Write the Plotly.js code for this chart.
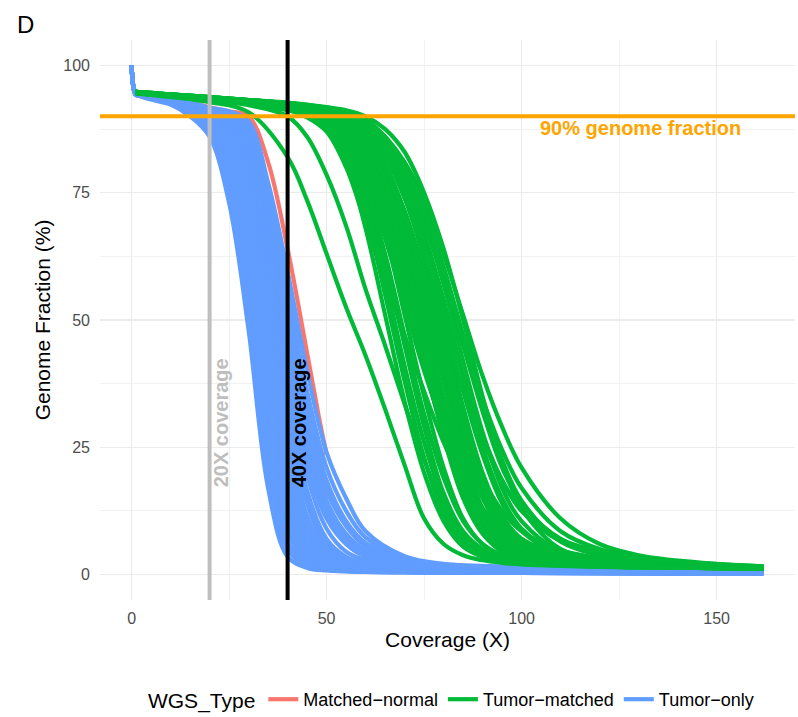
<!DOCTYPE html>
<html>
<head>
<meta charset="utf-8">
<script src="https://cdn.plot.ly/plotly-3.0.1.min.js"></script>
<style>html,body{margin:0;padding:0;background:#fff;}#chart{width:798px;height:717px;}</style>
</head>
<body>
<div id="chart"></div>
<script>
// ---- Data ----
const groupNames = ["Matched\u2212normal", "Tumor\u2212matched", "Tumor\u2212only"];
const groupColors = ["#F8766D", "#00BA38", "#619CFF"];

// Matched-normal curves (coverage X vs genome fraction %)
const xRed = [0, 1, 2, 5, 10, 15, 20, 25, 30, 35, 40, 45, 48, 50];
const red01 = [100, 94.6, 94.4, 94.0, 93.4, 92.7, 91.8, 91.0, 90.0, 81.0, 64.0, 43.5, 31.0, 23.5];
const red02 = [100, 94.6, 94.4, 94.0, 93.3, 92.5, 91.5, 90.3, 88.0, 76.0, 55.0, 33.0, 21.0, 15.0];
const red03 = [100, 94.5, 94.3, 93.8, 93.1, 92.0, 90.0, 84.0, 66.0, 38.0, 14.0, 5.0, 3.0, 2.4];

// Tumor-only curves
const xBlue = [0, 1, 2, 5, 10, 15, 20, 25, 30, 35, 40, 45, 50, 55, 60, 70, 80, 100, 130, 162];
const blue01 = [100, 94.2, 94.0, 93.3, 92.3, 90.0, 86.0, 73.0, 48.0, 17.0, 3.5, 1.3, 0.8, 0.6, 0.5, 0.4, 0.3, 0.3, 0.2, 0.2];
const blue02 = [100, 94.2, 94.0, 93.4, 92.5, 90.5, 86.8, 75.0, 52.5, 21.0, 5.0, 1.6, 0.9, 0.7, 0.5, 0.4, 0.3, 0.3, 0.2, 0.2];
const blue03 = [100, 94.3, 94.1, 93.4, 92.6, 90.9, 87.5, 77.0, 57.0, 25.0, 6.5, 2.0, 1.0, 0.7, 0.6, 0.5, 0.4, 0.3, 0.2, 0.2];
const blue04 = [100, 94.3, 94.1, 93.5, 92.7, 91.2, 88.0, 79.0, 61.0, 29.5, 8.5, 2.5, 1.2, 0.8, 0.6, 0.5, 0.4, 0.3, 0.3, 0.2];
const blue05 = [100, 94.3, 94.1, 93.6, 92.8, 91.4, 88.5, 81.0, 64.5, 34.0, 10.5, 3.2, 1.4, 0.9, 0.7, 0.5, 0.4, 0.3, 0.3, 0.2];
const blue06 = [100, 94.4, 94.2, 93.6, 92.9, 91.6, 89.0, 82.5, 67.5, 38.0, 13.0, 4.0, 1.7, 1.0, 0.8, 0.6, 0.5, 0.4, 0.3, 0.3];
const blue07 = [100, 94.4, 94.2, 93.7, 93.0, 91.8, 89.5, 84.0, 70.5, 42.5, 16.0, 5.0, 2.0, 1.2, 0.9, 0.6, 0.5, 0.4, 0.3, 0.3];
const blue08 = [100, 94.4, 94.2, 93.7, 93.0, 91.9, 90.0, 85.2, 73.0, 46.5, 19.0, 6.3, 2.5, 1.4, 1.0, 0.7, 0.5, 0.4, 0.3, 0.3];
const blue09 = [100, 94.5, 94.3, 93.8, 93.1, 92.0, 90.3, 86.3, 75.5, 50.5, 22.5, 7.8, 3.0, 1.6, 1.1, 0.8, 0.6, 0.5, 0.4, 0.3];
const blue10 = [100, 94.5, 94.3, 93.8, 93.1, 92.1, 90.6, 87.2, 77.5, 54.0, 26.0, 9.5, 3.7, 1.9, 1.3, 0.9, 0.7, 0.5, 0.4, 0.3];
const blue11 = [100, 94.5, 94.3, 93.9, 93.2, 92.2, 90.8, 88.0, 79.5, 57.5, 29.5, 11.5, 4.5, 2.3, 1.5, 1.0, 0.7, 0.5, 0.4, 0.3];
const blue12 = [100, 94.5, 94.3, 93.9, 93.2, 92.3, 91.0, 88.6, 81.5, 60.5, 33.0, 14.0, 5.5, 2.8, 1.8, 1.1, 0.8, 0.6, 0.4, 0.4];
const blue13 = [100, 94.6, 94.4, 94.0, 93.3, 92.4, 91.2, 89.2, 83.0, 63.5, 36.5, 16.5, 7.0, 3.5, 2.2, 1.3, 0.9, 0.6, 0.5, 0.4];
const blue14 = [100, 94.6, 94.4, 94.0, 93.3, 92.5, 91.3, 89.7, 84.5, 66.5, 40.0, 19.5, 9.0, 4.5, 2.8, 1.5, 1.0, 0.7, 0.5, 0.4];
const blue15 = [100, 94.6, 94.4, 94.0, 93.4, 92.6, 91.4, 90.1, 86.0, 69.5, 44.0, 23.0, 11.5, 6.0, 3.6, 1.9, 1.2, 0.8, 0.6, 0.5];
const blue16 = [100, 94.6, 94.4, 94.1, 93.4, 92.6, 91.5, 90.4, 87.2, 72.0, 48.5, 27.5, 14.5, 8.0, 4.8, 2.4, 1.5, 1.0, 0.7, 0.5];
const blue17 = [100, 94.7, 94.5, 94.1, 93.5, 92.7, 91.6, 90.7, 88.2, 74.5, 53.5, 33.0, 18.5, 10.5, 6.2, 3.0, 1.8, 1.2, 0.8, 0.6];
const blue18 = [100, 94.7, 94.5, 94.2, 93.5, 92.8, 91.7, 91.0, 89.0, 77.0, 59.5, 40.0, 24.0, 15.0, 8.5, 3.6, 2.1, 1.5, 1.1, 0.8];
const blue19 = [100, 94.6, 94.4, 94.0, 93.3, 92.5, 91.3, 89.9, 85.2, 68.0, 42.0, 22.0, 11.0, 6.0, 3.5, 1.8, 1.2, 0.8, 0.6, 0.5];
const blue20 = [100, 94.6, 94.4, 94.1, 93.4, 92.6, 91.5, 90.5, 87.8, 73.2, 51.0, 30.0, 16.5, 9.5, 5.6, 2.8, 1.7, 1.1, 0.8, 0.6];
const blue21 = [100, 94.7, 94.5, 94.1, 93.5, 92.7, 91.6, 90.8, 88.6, 75.8, 56.0, 36.0, 21.0, 12.5, 7.3, 3.3, 2.0, 1.3, 0.9, 0.7];
const blue22 = [100, 94.6, 94.4, 94.0, 93.4, 92.6, 91.4, 90.2, 86.6, 70.8, 46.0, 25.0, 13.0, 7.0, 4.2, 2.1, 1.3, 0.9, 0.6, 0.5];
const blue23 = [100, 94.5, 94.3, 93.9, 93.2, 92.3, 91.1, 88.9, 82.2, 62.0, 34.8, 15.2, 6.2, 3.1, 2.0, 1.2, 0.8, 0.6, 0.4, 0.4];

// Tumor-matched curves
const xGreen = [1, 5, 10, 20, 30, 40, 45, 50, 55, 60, 65, 70, 75, 80, 85, 90, 95, 100, 110, 120, 130, 145, 162];
const green01 = [94.5, 94.2, 93.8, 92.8, 90.8, 82.0, 73.5, 63.0, 52.5, 43.0, 32.5, 21.5, 11.0, 6.0, 3.8, 2.8, 2.3, 2.0, 1.7, 1.5, 1.4, 1.3, 1.2];
const green02 = [94.6, 94.3, 94.0, 93.2, 92.2, 90.0, 86.0, 78.5, 68.5, 56.0, 45.0, 33.5, 22.5, 13.5, 7.5, 4.5, 3.2, 2.6, 2.0, 1.7, 1.5, 1.3, 1.2];
const green03 = [94.6, 94.3, 94.0, 93.3, 92.5, 91.5, 90.5, 88.0, 82.0, 71.0, 55.0, 38.0, 23.0, 12.0, 6.5, 4.0, 2.8, 2.3, 1.8, 1.6, 1.4, 1.3, 1.2];
const green04 = [94.7, 94.4, 94.1, 93.4, 92.7, 91.8, 91.0, 88.5, 84.0, 75.0, 61.0, 45.0, 29.0, 16.0, 8.5, 5.0, 3.3, 2.6, 2.0, 1.7, 1.5, 1.3, 1.2];
const green05 = [94.6, 94.3, 94.0, 93.3, 92.6, 91.6, 91.0, 89.0, 86.0, 79.0, 67.0, 51.0, 35.0, 21.0, 11.0, 6.0, 3.8, 2.8, 2.0, 1.7, 1.5, 1.3, 1.2];
const green06 = [94.7, 94.4, 94.1, 93.5, 92.8, 92.0, 91.3, 89.5, 86.0, 78.0, 67.0, 54.0, 41.0, 28.0, 17.0, 9.5, 5.5, 3.6, 2.3, 1.9, 1.6, 1.4, 1.2];
const green07 = [94.8, 94.5, 94.2, 93.6, 92.9, 92.1, 91.5, 90.0, 87.5, 82.0, 72.0, 58.0, 42.0, 27.0, 15.0, 8.0, 4.5, 3.2, 2.2, 1.8, 1.6, 1.4, 1.2];
const green08 = [94.7, 94.4, 94.1, 93.5, 92.9, 92.2, 91.6, 90.5, 88.5, 84.0, 76.0, 63.0, 48.0, 33.0, 20.0, 11.0, 6.0, 4.0, 2.5, 2.0, 1.7, 1.4, 1.2];
const green09 = [94.6, 94.3, 94.0, 93.4, 92.8, 92.0, 91.5, 90.5, 88.5, 84.0, 76.0, 65.0, 52.0, 39.0, 27.0, 17.0, 10.5, 7.0, 4.0, 2.8, 2.2, 1.7, 1.4];
const green10 = [94.8, 94.5, 94.2, 93.6, 93.0, 92.3, 91.8, 91.0, 89.5, 86.0, 80.0, 70.0, 57.0, 42.0, 28.0, 16.0, 9.0, 5.5, 3.0, 2.2, 1.8, 1.5, 1.3];
const green11 = [94.7, 94.4, 94.1, 93.6, 93.0, 92.4, 91.9, 91.0, 89.8, 87.0, 82.0, 74.0, 62.0, 48.0, 33.0, 20.0, 11.5, 7.0, 3.5, 2.4, 1.9, 1.5, 1.3];
const green12 = [94.8, 94.5, 94.3, 93.7, 93.1, 92.5, 92.0, 91.3, 90.2, 88.0, 84.0, 77.0, 67.0, 54.0, 39.0, 25.0, 15.0, 9.0, 4.0, 2.6, 2.0, 1.6, 1.3];
const green13 = [94.7, 94.5, 94.2, 93.7, 93.1, 92.5, 92.0, 91.5, 90.5, 88.5, 85.0, 79.0, 70.0, 58.0, 45.0, 32.0, 21.0, 14.0, 7.0, 4.5, 3.0, 2.0, 1.5];
const green14 = [94.8, 94.6, 94.3, 93.8, 93.2, 92.6, 92.2, 91.7, 91.0, 89.5, 86.0, 81.0, 73.5, 63.0, 51.0, 39.0, 29.0, 21.0, 11.0, 6.0, 3.8, 2.4, 1.6];
const green15 = [94.8, 94.6, 94.3, 93.8, 93.2, 92.7, 92.3, 91.8, 91.2, 90.0, 87.5, 83.0, 75.0, 64.0, 50.0, 35.0, 22.0, 13.0, 5.0, 3.0, 2.2, 1.7, 1.4];
const green16 = [94.7, 94.4, 94.2, 93.6, 93.0, 92.4, 91.9, 91.2, 90.0, 87.5, 83.0, 75.0, 63.0, 47.0, 30.0, 16.0, 8.0, 4.5, 2.5, 2.0, 1.7, 1.4, 1.2];
const green17 = [94.6, 94.3, 94.0, 93.3, 92.5, 91.3, 89.8, 87.0, 80.0, 69.0, 58.0, 47.0, 36.0, 26.0, 18.0, 12.0, 8.0, 5.5, 3.5, 2.6, 2.1, 1.7, 1.4];
const green18 = [94.7, 94.4, 94.1, 93.5, 92.8, 92.0, 91.4, 90.2, 88.0, 82.5, 73.0, 60.0, 45.0, 30.0, 17.0, 9.0, 5.0, 3.4, 2.2, 1.8, 1.6, 1.4, 1.2];
const green19 = [94.6, 94.4, 94.1, 93.5, 92.9, 92.2, 91.7, 90.7, 89.0, 85.0, 78.0, 67.0, 53.0, 38.0, 24.0, 13.0, 7.0, 4.5, 2.7, 2.1, 1.7, 1.4, 1.2];
const green20 = [94.7, 94.4, 94.1, 93.4, 92.7, 91.8, 91.0, 89.0, 85.0, 77.0, 66.0, 53.0, 40.0, 29.0, 20.0, 13.0, 8.5, 5.8, 3.4, 2.5, 2.0, 1.6, 1.3];
const green21 = [94.6, 94.3, 94.0, 93.3, 92.5, 91.4, 90.6, 88.5, 83.0, 73.0, 58.0, 41.0, 26.0, 14.5, 7.5, 4.5, 3.0, 2.4, 1.9, 1.6, 1.4, 1.3, 1.1];
const green22 = [94.7, 94.4, 94.1, 93.4, 92.7, 91.7, 91.0, 89.0, 85.5, 78.5, 68.5, 55.0, 41.0, 28.0, 18.0, 11.0, 6.5, 4.3, 2.6, 2.0, 1.7, 1.4, 1.2];
const green23 = [94.7, 94.4, 94.2, 93.5, 92.8, 92.0, 91.4, 90.0, 87.0, 81.0, 71.0, 58.5, 44.5, 31.0, 19.0, 10.5, 6.0, 4.0, 2.4, 1.9, 1.6, 1.4, 1.2];
const green24 = [94.8, 94.5, 94.2, 93.6, 92.9, 92.2, 91.6, 90.6, 88.8, 84.0, 76.0, 64.5, 50.0, 35.0, 22.0, 12.5, 7.0, 4.5, 2.6, 2.0, 1.7, 1.4, 1.2];
const green25 = [94.7, 94.5, 94.2, 93.6, 93.0, 92.3, 91.8, 90.8, 89.2, 85.5, 79.0, 68.5, 55.0, 41.0, 28.5, 19.0, 12.5, 8.5, 4.8, 3.2, 2.4, 1.8, 1.4];
const green26 = [94.8, 94.5, 94.3, 93.7, 93.1, 92.4, 91.9, 91.0, 89.6, 86.5, 80.5, 71.5, 59.5, 45.5, 31.0, 18.5, 10.0, 6.0, 3.0, 2.2, 1.8, 1.5, 1.2];
const green27 = [94.7, 94.5, 94.2, 93.7, 93.1, 92.5, 92.0, 91.2, 90.0, 87.5, 83.0, 76.0, 65.5, 52.5, 39.0, 27.5, 18.5, 12.5, 6.5, 4.0, 2.8, 2.0, 1.5];
const green28 = [94.8, 94.6, 94.3, 93.8, 93.2, 92.6, 92.1, 91.4, 90.4, 88.5, 85.0, 79.0, 69.5, 57.0, 42.0, 28.0, 17.0, 10.5, 4.5, 2.8, 2.1, 1.6, 1.3];
const green29 = [94.8, 94.6, 94.3, 93.8, 93.2, 92.6, 92.2, 91.6, 90.8, 89.0, 86.0, 80.5, 72.0, 60.5, 47.0, 33.5, 22.5, 14.5, 6.5, 3.8, 2.6, 1.9, 1.4];
const green30 = [94.6, 94.3, 94.0, 93.4, 92.6, 91.5, 90.8, 88.8, 84.5, 76.0, 63.0, 47.0, 31.5, 19.0, 10.5, 6.0, 3.8, 2.8, 2.0, 1.7, 1.5, 1.3, 1.1];
const green31 = [94.6, 94.3, 94.0, 93.2, 92.4, 91.2, 90.2, 87.5, 81.0, 68.0, 51.0, 34.0, 20.0, 10.5, 5.5, 3.5, 2.6, 2.2, 1.8, 1.6, 1.4, 1.3, 1.1];
const green32 = [94.7, 94.4, 94.2, 93.6, 93.0, 92.3, 91.8, 90.8, 89.0, 85.0, 78.5, 69.5, 58.5, 47.5, 36.5, 26.5, 18.5, 12.5, 6.8, 4.2, 3.0, 2.1, 1.5];
const green33 = [94.7, 94.4, 94.1, 93.5, 92.9, 92.1, 91.5, 90.4, 88.3, 83.2, 74.5, 62.0, 47.0, 32.5, 20.0, 11.0, 6.0, 4.0, 2.4, 1.9, 1.6, 1.4, 1.2];
const green34 = [94.8, 94.5, 94.2, 93.6, 93.0, 92.3, 91.8, 90.9, 89.4, 86.0, 80.0, 70.5, 58.0, 44.0, 30.0, 18.5, 10.5, 6.5, 3.2, 2.3, 1.8, 1.5, 1.2];
const green35 = [94.7, 94.5, 94.2, 93.7, 93.1, 92.4, 91.9, 91.1, 89.9, 87.2, 82.0, 74.0, 63.0, 50.0, 36.0, 23.5, 14.0, 8.5, 4.0, 2.6, 2.0, 1.6, 1.3];
const green36 = [94.7, 94.4, 94.1, 93.4, 92.7, 91.8, 91.1, 89.3, 86.0, 79.5, 69.5, 56.0, 41.5, 28.0, 16.5, 9.0, 5.0, 3.4, 2.2, 1.8, 1.6, 1.4, 1.2];
const green37 = [94.8, 94.5, 94.3, 93.8, 93.2, 92.6, 92.1, 91.4, 90.4, 88.2, 84.5, 78.0, 69.0, 58.0, 46.0, 34.5, 24.5, 17.0, 8.5, 5.0, 3.4, 2.3, 1.6];
const green38 = [94.7, 94.4, 94.2, 93.6, 92.9, 92.2, 91.6, 90.6, 88.9, 84.8, 77.5, 66.5, 52.5, 38.0, 25.0, 15.0, 8.5, 5.2, 2.9, 2.1, 1.7, 1.4, 1.2];

// Reference lines and labels
const refCoverage = [20, 40];
const refCoverageLabels = ["20X coverage", "40X coverage"];
const refFraction = 90;
const refFractionLabel = "90% genome fraction";

const xTicks = [0, 50, 100, 150];
const yTicks = [0, 25, 50, 75, 100];

// ---- Build traces ----
const redSet = [red01, red02, red03];
const blueSet = [blue01, blue02, blue03, blue04, blue05, blue06, blue07, blue08, blue09, blue10, blue11, blue12,
                 blue23, blue13, blue14, blue19, blue15, blue22, blue16, blue20, blue17, blue21, blue18];
const greenSet = [green01, green02, green03, green04, green05, green06, green07, green08, green09, green10,
                  green11, green12, green13, green14, green15, green16, green17, green18, green19, green20,
                  green21, green22, green23, green24, green25, green26, green27, green28, green29, green30,
                  green31, green32, green33, green34, green35, green36, green37, green38];

const traces = [];
function addGroup(xs, set, gi, rank) {
  set.forEach((ys, i) => {
    traces.push({
      type: 'scatter', mode: 'lines', x: xs, y: ys,
      line: {color: groupColors[gi], width: 4.2, shape: 'spline', smoothing: 1},
      name: groupNames[gi], legendgroup: groupNames[gi], showlegend: i === 0,
      legendrank: rank, hoverinfo: 'skip'
    });
  });
}
addGroup(xRed, redSet, 0, 1);
addGroup(xBlue, blueSet, 2, 3);
addGroup(xGreen, greenSet, 1, 2);

const FONT = 'Liberation Sans, Arial, Helvetica, sans-serif';

const layout = {
  width: 798, height: 717,
  margin: {l: 100, r: 3, t: 40, b: 117},
  paper_bgcolor: '#ffffff', plot_bgcolor: '#ffffff',
  font: {family: FONT, color: '#000'},
  showlegend: true,
  xaxis: {
    range: [-8.1, 170.1], tickvals: xTicks, ticktext: xTicks.map(String), automargin: false,
    showgrid: true, gridcolor: '#EBEBEB', gridwidth: 1.4, zeroline: false, showline: false,
    ticks: '', ticklabelstandoff: 7, tickfont: {size: 16, color: '#4D4D4D', family: FONT},
    minor: {tickvals: [25, 75, 125], showgrid: true, gridcolor: '#EBEBEB', gridwidth: 0.7, ticks: ''},
    title: {text: 'Coverage (X)', font: {size: 21, color: '#000', family: FONT}, standoff: 6}
  },
  yaxis: {
    range: [-5, 105], tickvals: yTicks, ticktext: yTicks.map(String), automargin: false,
    showgrid: true, gridcolor: '#EBEBEB', gridwidth: 1.4, zeroline: false, showline: false,
    ticks: '', ticklabelstandoff: 9, tickfont: {size: 16, color: '#4D4D4D', family: FONT},
    minor: {tickvals: [12.5, 37.5, 62.5, 87.5], showgrid: true, gridcolor: '#EBEBEB', gridwidth: 0.7, ticks: ''},
    title: {text: 'Genome Fraction (%)', font: {size: 21, color: '#000', family: FONT}, standoff: 6}
  },
  legend: {
    orientation: 'h', xref: 'container', yref: 'container',
    x: 0.567, xanchor: 'center', y: 0.0237, yanchor: 'middle',
    font: {size: 18, color: '#000', family: FONT},
    title: {text: 'WGS_Type', side: 'left', font: {size: 21, color: '#000', family: FONT}},
    traceorder: 'normal', itemwidth: 30, bgcolor: 'rgba(0,0,0,0)'
  },
  shapes: [
    {type: 'line', xref: 'x', yref: 'paper', x0: refCoverage[0], x1: refCoverage[0], y0: 0, y1: 1,
     line: {color: '#BEBEBE', width: 4}, layer: 'above'},
    {type: 'line', xref: 'x', yref: 'paper', x0: refCoverage[1], x1: refCoverage[1], y0: 0, y1: 1,
     line: {color: '#000000', width: 4}, layer: 'above'},
    {type: 'line', xref: 'paper', yref: 'y', x0: 0, x1: 1, y0: refFraction, y1: refFraction,
     line: {color: '#FFA500', width: 4}, layer: 'above'}
  ],
  annotations: [
    {x: 22.8, y: 29.8, xref: 'x', yref: 'y', text: refCoverageLabels[0], textangle: -90, showarrow: false,
     xanchor: 'center', yanchor: 'middle', font: {size: 20, color: '#BEBEBE', family: FONT, weight: 'bold'}},
    {x: 42.8, y: 29.8, xref: 'x', yref: 'y', text: refCoverageLabels[1], textangle: -90, showarrow: false,
     xanchor: 'center', yanchor: 'middle', font: {size: 20, color: '#000000', family: FONT, weight: 'bold'}},
    {x: 130.5, y: 87.8, xref: 'x', yref: 'y', text: refFractionLabel, showarrow: false,
     xanchor: 'center', yanchor: 'middle', font: {size: 20, color: '#FFA500', family: FONT, weight: 'bold'}},
    {x: -0.1065, y: 1.028, xref: 'paper', yref: 'paper', text: 'D', showarrow: false,
     xanchor: 'center', yanchor: 'middle', font: {size: 24, color: '#000', family: FONT}}
  ]
};

Plotly.newPlot('chart', traces, layout, {displayModeBar: false, staticPlot: true});
</script>
</body>
</html>
